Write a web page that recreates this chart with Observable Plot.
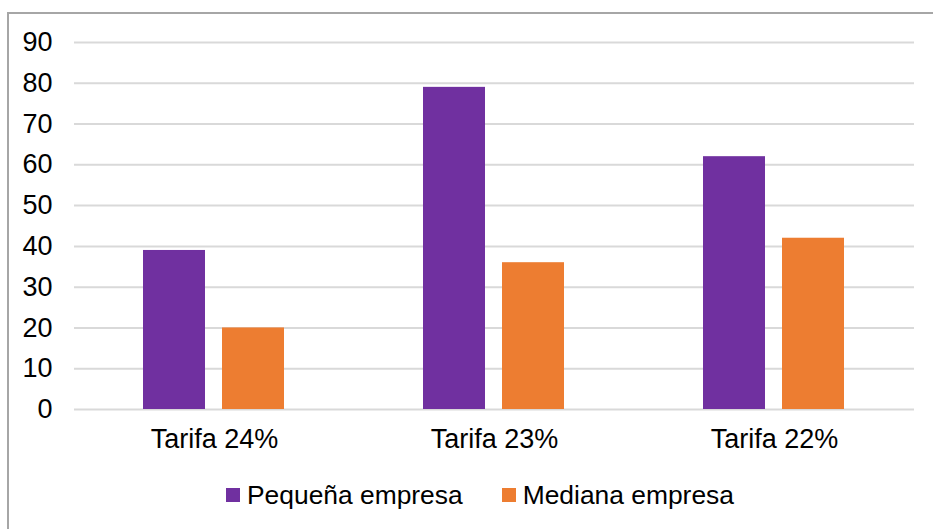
<!DOCTYPE html>
<html>
<head>
<meta charset="utf-8">
<script src="https://cdn.jsdelivr.net/npm/d3@7"></script>
<script src="https://cdn.jsdelivr.net/npm/@observablehq/plot@0.6"></script>
<style>
  html, body { margin: 0; padding: 0; background: #fff; overflow: hidden; }
  #frame {
    position: absolute; left: 7px; top: 12px; width: 940px; height: 540px;
    border-top: 2px solid #a6a6a6; border-left: 2px solid #a6a6a6;
  }
  #chart { position: absolute; left: 0; top: 0; }
  #legend { position: absolute; left: 217px; top: 466px; }
  .lg-swatches { font-family: "Liberation Sans", Arial, sans-serif !important; font-size: 26.4px !important; line-height: 30px !important; color: #000; min-height: 30px !important; margin: 0 !important; }
  .lg-swatches-wrap .lg-swatch { margin-right: 39px !important; }
  .lg-swatch > svg { margin-right: 7px !important; }
</style>
</head>
<body>
<div id="frame"><div id="chart"></div><div id="legend"></div></div>
<script>
const categories = ["Tarifa 24%", "Tarifa 23%", "Tarifa 22%"];
const series = ["Pequeña empresa", "Mediana empresa"];
const pequena = [39, 79, 62];
const mediana = [20, 36, 42];
const colors = ["#7030a0", "#ed7d31"];
const yTicks = [0, 10, 20, 30, 40, 50, 60, 70, 80, 90];

const data = [];
categories.forEach((c, i) => {
  data.push({cat: c, serie: series[0], value: pequena[i]});
  data.push({cat: c, serie: series[1], value: mediana[i]});
});

const chart = Plot.plot({
  width: 924,
  height: 450,
  marginLeft: 64,
  marginRight: 18,
  marginTop: 28,
  marginBottom: 55,
  style: {fontFamily: "'Liberation Sans', Arial, sans-serif", fontSize: "27px", color: "#000", background: "transparent"},
  fx: {domain: categories, padding: 0, label: null, axis: "bottom", tickSize: 0, tickPadding: 19},
  x: {domain: series, axis: null, paddingInner: 0.2125, paddingOuter: 0.86},
  y: {domain: [0, 90], axis: null},
  color: {domain: series, range: colors},
  marks: [
    Plot.gridY(yTicks, {stroke: "#d9d9d9", strokeOpacity: 1, strokeWidth: 2}),
    Plot.barY(data, {fx: "cat", x: "serie", y: "value", fill: "serie"}),
    Plot.axisY(yTicks, {tickSize: 0, tickPadding: 22, label: null, fontSize: 27, facetAnchor: "left"})
  ]
});
document.getElementById("chart").appendChild(chart);

const legend = Plot.legend({
  color: {domain: series, range: colors},
  swatchSize: 14,
  className: "lg"
});
document.getElementById("legend").appendChild(legend);
</script>
</body>
</html>
